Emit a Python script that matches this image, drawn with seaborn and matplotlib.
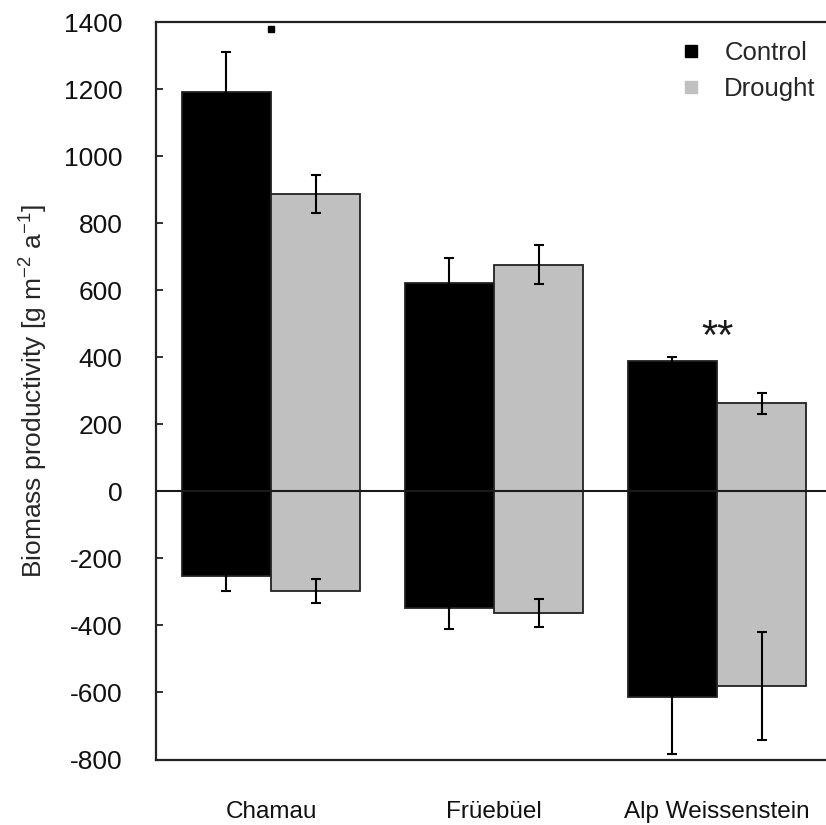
import matplotlib
matplotlib.use("Agg")
import matplotlib.pyplot as plt
from matplotlib.lines import Line2D
import pandas as pd
import seaborn as sns

# Sites and treatments
sites = ["Chamau", "Früebüel", "Alp Weissenstein"]
treatments = ["Control", "Drought"]

# Productivity above zero (growth) per site, with errors
gain_control = [1190, 620, 388]
gain_drought = [888, 676, 262]
gain_err_control = [122, 76, 13]
gain_err_drought = [57, 58, 30]

# Productivity below zero (losses) per site, with errors
loss_control = [-252, -347, -614]
loss_drought = [-297, -363, -581]
loss_err_control = [44, 65, 171]
loss_err_drought = [36, 42, 160]

yticks = [-800, -600, -400, -200, 0, 200, 400, 600, 800, 1000, 1200, 1400]

df = pd.DataFrame({
    "site": sites * 2,
    "treatment": ["Control"] * 3 + ["Drought"] * 3,
    "gain": gain_control + gain_drought,
    "loss": loss_control + loss_drought,
})
errors = {
    "gain": {"Control": gain_err_control, "Drought": gain_err_drought},
    "loss": {"Control": loss_err_control, "Drought": loss_err_drought},
}

sns.set_style("white")
plt.rcParams["font.family"] = ["Liberation Sans", "DejaVu Sans"]
plt.rcParams["mathtext.fontset"] = "custom"
plt.rcParams["mathtext.rm"] = "Liberation Sans"
plt.rcParams["mathtext.it"] = "Liberation Sans"
plt.rcParams["axes.unicode_minus"] = False

palette = {"Control": "#000000", "Drought": "#c0c0c0"}

fig = plt.figure(figsize=(8.26, 8.25), dpi=100)
ax = fig.add_axes([156 / 826, 1 - 759.5 / 825, (826 - 156) / 826, 737.5 / 825])

for col in ["gain", "loss"]:
    n_before = len(ax.containers)
    sns.barplot(data=df, x="site", y=col, hue="treatment", order=sites,
                hue_order=treatments, palette=palette, errorbar=None,
                width=0.8, edgecolor="#222222", linewidth=1.3,
                legend=False, ax=ax, zorder=2)
    for cont, trt in zip(ax.containers[n_before:], treatments):
        xs = [p.get_x() + p.get_width() / 2 for p in cont.patches]
        ys = [p.get_y() + p.get_height() for p in cont.patches]
        ax.errorbar(xs, ys, yerr=errors[col][trt], fmt="none", ecolor="black",
                    elinewidth=1.5, capsize=3.5, capthick=1.5, zorder=4)

ax.axhline(0, color="#1a1a1a", lw=1.5, zorder=3)

# Significance marks
ax.plot([0], [1378], marker="s", color="black", markersize=4.3, zorder=5)
ax.text(2, 425, "**", ha="center", va="baseline", fontsize=30, color="#1a1a1a")

ax.set_xlim(-0.516, 2.489)
ax.set_ylim(-800, 1400)
ax.set_yticks(yticks)
ax.set_yticklabels([str(v) for v in yticks])
ax.set_xlabel("")
ax.set_ylabel("Biomass productivity [g m$^{-2}$ a$^{-1}$]", fontsize=19, labelpad=10)

ax.tick_params(axis="y", direction="in", length=5, width=1.3, labelsize=19,
               pad=24, left=True, colors="#222222")
ax.tick_params(axis="x", length=0, labelsize=17.5, pad=30)
for lbl in ax.get_yticklabels() + ax.get_xticklabels():
    lbl.set_color("#111111")

for side in ["left", "top", "bottom"]:
    ax.spines[side].set_color("#222222")
    ax.spines[side].set_linewidth(1.6)
ax.spines["right"].set_visible(False)

handles = [Line2D([], [], marker="s", linestyle="none", color=palette[t],
                  markersize=8) for t in treatments]
ax.legend(handles, treatments, loc="upper left", frameon=False,
          bbox_to_anchor=(678 / 826, 1 - 41 / 825), bbox_transform=fig.transFigure,
          fontsize=18.5, handlelength=1.0, handletextpad=0.8, labelspacing=0.45,
          borderpad=0, borderaxespad=0)

fig.savefig("out.png", dpi=100)
